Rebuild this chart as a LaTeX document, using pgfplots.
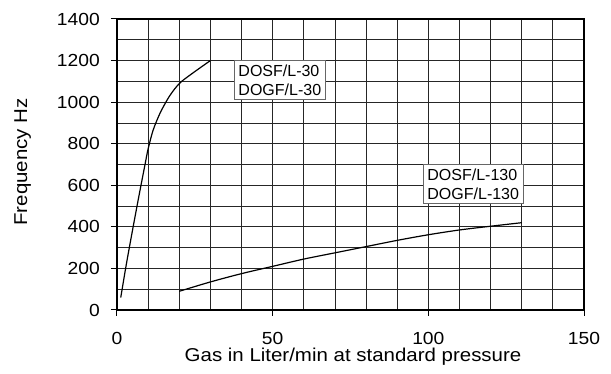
\documentclass[border=0pt]{standalone}
\usepackage{pgfplots}
\pgfplotsset{compat=1.18}
\usepackage{fontspec}
\setmainfont{Liberation Sans}
\newfontfamily\axisfont[FakeStretch=1.1]{Liberation Sans}

\begin{document}
\begin{tikzpicture}
  \path[use as bounding box] (-117pt,-64pt) rectangle (494pt,310pt);
  \begin{axis}[
      at={(0,0)}, anchor=south west,
      scale only axis,
      width=467pt, height=291pt,
      xmin=0, xmax=150, ymin=0, ymax=1400,
      xtick={0,50,100,150},
      ytick={0,200,...,1400},
      minor xtick={0,10,...,150},
      minor ytick={0,100,...,1400},
      grid=both,
      grid style={line width=0.8pt, draw=black!85},
      major grid style={line width=0.8pt, draw=black!85},
      minor tick length=0pt,
      major tick length=6pt,
      tick align=outside,
      tick pos=left,
      tick style={line width=1pt, black},
      axis line style={line width=1.3pt},
      /pgf/number format/assume math mode=true,
      /pgf/number format/1000 sep={},
      scaled ticks=false,
      tick label style={font=\axisfont\fontsize{17.5}{20}\selectfont},
      xticklabel style={anchor=base, inner sep=0pt, yshift=-28.5pt},
      yticklabel style={anchor=east, inner sep=0pt, xshift=-11pt},
      xlabel={Gas in Liter/min at standard pressure},
      ylabel={Frequency Hz},
      every axis x label/.style={at={(axis description cs:0.5054,-0.1775)}, anchor=base,
        inner sep=0pt, font=\axisfont\fontsize{18.6}{20}\selectfont},
      every axis y label/.style={at={(axis description cs:-0.1927,0.5086)}, anchor=base, rotate=90,
        inner sep=0pt, font=\axisfont\fontsize{18.6}{20}\selectfont},
    ]
    % DOSF/L-30
    \addplot[black, line width=1.2pt, smooth] coordinates {
      (1.2,60) (3,220) (5,385) (7,545) (9,700) (10,775) (11.6,865)
      (13.8,946) (16.4,1018) (18.6,1065) (20.7,1099) (25,1147) (30,1200)
    };
    % DOSF/L-130
    \addplot[black, line width=1.2pt, smooth] coordinates {
      (20,90) (30,135) (40,175) (50,210) (60,245) (70,275) (80,305)
      (90,335) (100,362) (110,385) (120,403) (130,420)
    };
    \node[draw=black!60, line width=0.8pt, fill=white, align=left, anchor=north west,
          inner xsep=4pt, inner ysep=4.5pt, font=\fontsize{16}{18.5}\selectfont]
      at (axis cs:37.6,1202) {DOSF/L-30\\DOGF/L-30};
    \node[draw=black!60, line width=0.8pt, fill=white, align=left, anchor=north west,
          inner xsep=4pt, inner ysep=4.5pt, font=\fontsize{16}{18.5}\selectfont]
      at (axis cs:98.3,702) {DOSF/L-130\\DOGF/L-130};
  \end{axis}
\end{tikzpicture}
\end{document}
